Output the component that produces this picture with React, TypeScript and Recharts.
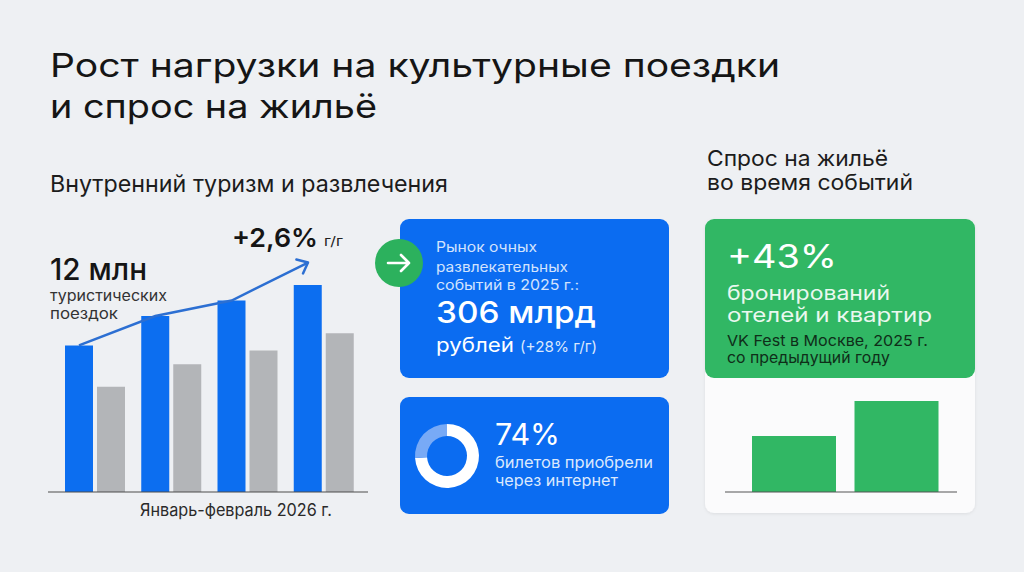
import React from 'react';
import {
  ComposedChart,
  BarChart,
  Bar,
  XAxis,
  YAxis,
  LineChart,
  Line,
  PieChart,
  Pie,
  Cell,
} from 'recharts';

// ---------- data ----------
const periods = ['П1', 'П2', 'П3', 'П4'];
const tripsCurrent = [8.5, 10.2, 11.1, 12.0];
const tripsPrevious = [6.1, 7.4, 8.2, 9.2];
const trendValues = [8.5, 10.2, 11.1, 13.3];

const ticketChannels = ['Онлайн', 'Офлайн'];
const ticketShares = [74, 26];

const bookingYears = ['2024', '2025'];
const bookingValues = [100, 162];

const tripsData = periods.map((p, i) => ({
  period: p,
  current: tripsCurrent[i],
  previous: tripsPrevious[i],
}));
const trendData = periods.map((p, i) => ({ period: p, trend: trendValues[i] }));
const ticketData = ticketChannels.map((c, i) => ({ name: c, value: ticketShares[i] }));
const bookingData = bookingYears.map((y, i) => ({ year: y, value: bookingValues[i] }));

// ---------- styles ----------
const FONT = 'Inter, "Noto Sans", "DejaVu Sans", sans-serif';
const BG = '#eef0f3';
const BLUE = '#0b6cf1';
const BAR_BLUE = '#0c6ef0';
const GRAY = '#b3b5b8';
const GREEN = '#31b764';
const LINE_BLUE = '#2c6fd2';
const ARROW_ANGLE = Math.atan2(-38, 80);

type TxtProps = {
  x: number;
  y: number;
  w: number;
  size: number;
  weight?: number;
  fill?: string;
  children: React.ReactNode;
};

function Txt({ x, y, w, size, weight = 400, fill = '#151515', children }: TxtProps) {
  return (
    <text
      x={x}
      y={y}
      fontSize={size}
      fontWeight={weight}
      fill={fill}
      fontFamily={FONT}
      textLength={w}
      lengthAdjust="spacingAndGlyphs"
    >
      {children}
    </text>
  );
}

function ArrowDot(props: any) {
  const { cx, cy, index } = props;
  if (index !== trendValues.length - 1 || cx == null || cy == null) {
    return <g key={`d-${index}`} />;
  }
  const L = 12;
  const back = ARROW_ANGLE + Math.PI;
  const spread = (40 * Math.PI) / 180;
  const x1 = cx + L * Math.cos(back + spread);
  const y1 = cy + L * Math.sin(back + spread);
  const x2 = cx + L * Math.cos(back - spread);
  const y2 = cy + L * Math.sin(back - spread);
  return (
    <path
      key={`d-${index}`}
      d={`M${x1},${y1} L${cx},${cy} L${x2},${y2}`}
      fill="none"
      stroke={LINE_BLUE}
      strokeWidth={2.5}
      strokeLinecap="round"
      strokeLinejoin="round"
    />
  );
}

export default function App() {
  return (
    <div
      style={{
        position: 'absolute',
        left: 0,
        top: 0,
        width: 1024,
        height: 572,
        background: BG,
        overflow: 'hidden',
        fontFamily: FONT,
      }}
    >
      {/* background layer: cards and texts */}
      <svg
        width={1024}
        height={572}
        style={{ position: 'absolute', left: 0, top: 0 }}
      >
        <defs>
          <filter id="sh" x="-10%" y="-10%" width="120%" height="130%">
            <feDropShadow dx="0" dy="1" stdDeviation="1.5" floodColor="#000" floodOpacity="0.08" />
          </filter>
        </defs>

        {/* title */}
        <Txt x={50} y={77} w={730} size={33}>Рост нагрузки на культурные поездки</Txt>
        <Txt x={50} y={118} w={327} size={33}>и спрос на жильё</Txt>

        {/* left block */}
        <Txt x={50} y={192} w={398} size={23} fill="#1c1c1c">Внутренний туризм и развлечения</Txt>
        <Txt x={50} y={280} w={97} size={30} weight={500}>12 млн</Txt>
        <Txt x={50} y={301} w={117} size={15} fill="#333">туристических</Txt>
        <Txt x={50} y={319} w={68} size={15} fill="#333">поездок</Txt>
        <Txt x={232} y={247} w={86} size={26} weight={600}>+2,6%</Txt>
        <Txt x={324} y={246} w={19} size={13} fill="#222">г/г</Txt>
        <Txt x={140} y={516} w={192} size={17} fill="#2a2a2a">Январь-февраль 2026 г.</Txt>

        {/* blue card 1 */}
        <rect x={400} y={219} width={269} height={159} rx={9} fill={BLUE} />
        <circle cx={399} cy={263} r={24} fill="#2cb15d" />
        <path
          d="M388,263 H409 M401,255 L409,263 L401,271"
          stroke="#fff"
          strokeWidth={2.6}
          fill="none"
          strokeLinecap="round"
          strokeLinejoin="round"
        />
        <Txt x={436} y={251.5} w={101} size={14} fill="#d3e3fd">Рынок очных</Txt>
        <Txt x={436} y={271.5} w={132} size={14} fill="#d3e3fd">развлекательных</Txt>
        <Txt x={436} y={289.5} w={143} size={14} fill="#d3e3fd">событий в 2025 г.:</Txt>
        <Txt x={436} y={323} w={160} size={30} weight={500} fill="#fff">306 млрд</Txt>
        <Txt x={436} y={352} w={78} size={20} fill="#fff">рублей</Txt>
        <Txt x={520} y={352} w={77} size={15} fill="#dbe8fd">(+28% г/г)</Txt>

        {/* blue card 2 */}
        <rect x={400} y={397} width={269} height={117} rx={9} fill={BLUE} />
        <Txt x={495} y={445} w={65} size={30} fill="#fff">74%</Txt>
        <Txt x={495} y={468} w={158} size={16} fill="#dbe8fd">билетов приобрели</Txt>
        <Txt x={495} y={486} w={123} size={16} fill="#dbe8fd">через интернет</Txt>

        {/* right block */}
        <Txt x={707} y={166} w={181} size={22} fill="#1c1c1c">Спрос на жильё</Txt>
        <Txt x={707} y={190} w={206} size={22} fill="#1c1c1c">во время событий</Txt>
        <rect x={705} y={219} width={270} height={294} rx={9} fill="#fbfbfc" filter="url(#sh)" />
        <rect x={705} y={219} width={270} height={159} rx={9} fill={GREEN} />
        <Txt x={727} y={268} w={110} size={32} fill="#fff">+43%</Txt>
        <Txt x={727} y={300} w={163} size={20} fill="#eaf8ef">бронирований</Txt>
        <Txt x={727} y={322} w={205} size={20} fill="#eaf8ef">отелей и квартир</Txt>
        <Txt x={727} y={346} w={201} size={15} fill="#0f2e19">VK Fest в Москве, 2025 г.</Txt>
        <Txt x={727} y={363} w={163} size={15} fill="#0f2e19">со предыдущий году</Txt>
      </svg>

      {/* trips bar chart */}
      <div style={{ position: 'absolute', left: 48, top: 216 }}>
        <ComposedChart
          width={320}
          height={296}
          data={tripsData}
          margin={{ top: 0, right: 0, bottom: 0, left: 0 }}
          barGap={4}
        >
          <XAxis
            dataKey="period"
            tick={false}
            tickLine={false}
            axisLine={{ stroke: '#4d4d4d', strokeWidth: 1.2 }}
            height={20}
            padding={{ left: 9, right: 6 }}
          />
          <YAxis hide domain={[0, 16]} />
          <Bar dataKey="current" fill={BAR_BLUE} barSize={28} isAnimationActive={false} />
          <Bar dataKey="previous" fill={GRAY} barSize={28} isAnimationActive={false} />
        </ComposedChart>
      </div>

      {/* trend arrow line, points centred on the blue bars */}
      <div style={{ position: 'absolute', left: 48, top: 216 }}>
        <LineChart
          width={320}
          height={276}
          data={trendData}
          margin={{ top: 0, right: 0, bottom: 0, left: 0 }}
        >
          <XAxis dataKey="period" hide padding={{ left: 31, right: 60 }} />
          <YAxis hide domain={[0, 16]} />
          <Line
            type="linear"
            dataKey="trend"
            stroke={LINE_BLUE}
            strokeWidth={2.5}
            dot={ArrowDot}
            activeDot={false}
            isAnimationActive={false}
          />
        </LineChart>
      </div>

      {/* donut */}
      <div style={{ position: 'absolute', left: 406.5, top: 415.5 }}>
        <PieChart width={80} height={80} margin={{ top: 0, right: 0, bottom: 0, left: 0 }}>
          <Pie
            data={ticketData}
            dataKey="value"
            nameKey="name"
            cx="50%"
            cy="50%"
            innerRadius={20}
            outerRadius={32}
            startAngle={90}
            endAngle={-270}
            stroke="none"
            isAnimationActive={false}
          >
            <Cell fill="#ffffff" />
            <Cell fill="#78aaf6" />
          </Pie>
        </PieChart>
      </div>

      {/* bookings bar chart */}
      <div style={{ position: 'absolute', left: 725, top: 391 }}>
        <BarChart
          width={232}
          height={111}
          data={bookingData}
          margin={{ top: 0, right: 0, bottom: 0, left: 0 }}
        >
          <XAxis
            dataKey="year"
            tick={false}
            tickLine={false}
            axisLine={{ stroke: '#555', strokeWidth: 1.2 }}
            height={10}
            padding={{ left: 18, right: 9 }}
          />
          <YAxis hide domain={[0, 180]} />
          <Bar dataKey="value" fill={GREEN} barSize={84} isAnimationActive={false} />
        </BarChart>
      </div>
    </div>
  );
}
